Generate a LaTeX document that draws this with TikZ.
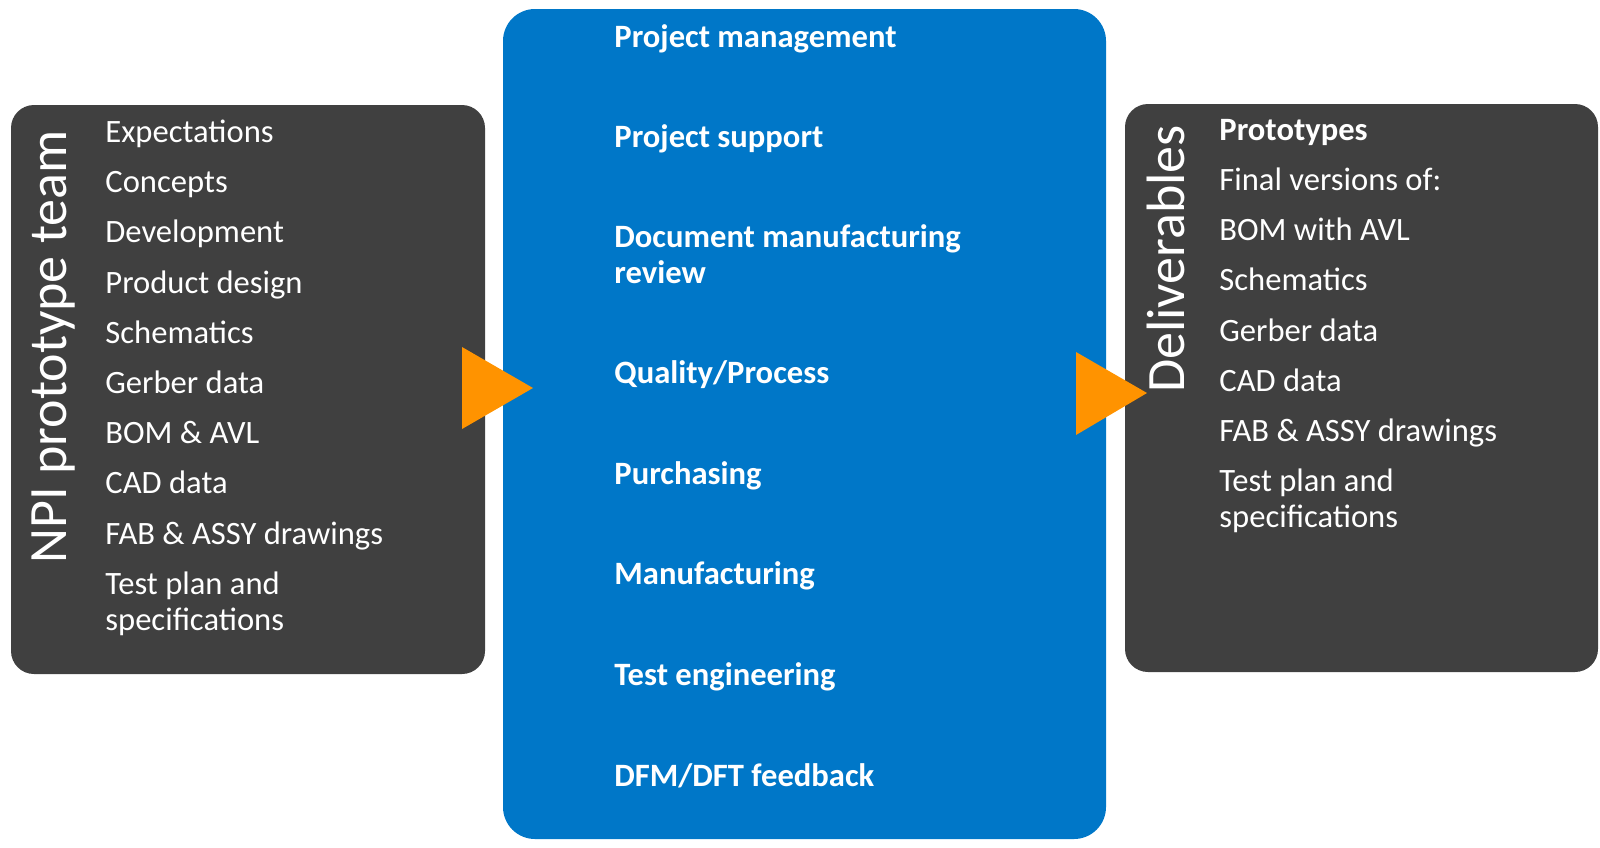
\documentclass[tikz,border=0pt]{standalone}
\usepackage{fontspec}
\setmainfont{Carlito}
\usetikzlibrary{positioning}
\definecolor{boxgray}{HTML}{404040}
\definecolor{boxblue}{HTML}{0077C8}
\definecolor{arrorange}{HTML}{FF9300}
\begin{document}
\begin{tikzpicture}
	[x=0.5pt,y=-0.5pt,every node/.style={text=white,inner sep=0pt},
	 item/.style={anchor=base west,align=left,font=\fontsize{16.3}{18}\selectfont},
	 bitem/.style={item,font=\fontsize{16.3}{18}\selectfont\bfseries},
	 vtitle/.style={rotate=90,anchor=base,font=\fontsize{27}{30}\selectfont}]
	\useasboundingbox (0,0) rectangle (1600,847);
	\fill[boxgray,rounded corners=11.5pt] (11,105) rectangle (485,674);
	\fill[boxblue,rounded corners=16pt] (503,9) rectangle (1106,839);
	\fill[boxgray,rounded corners=11.5pt] (1125,104) rectangle (1598,672);
	
	\node[vtitle] (team) at (66,347) {NPI prototype team};
	\node[vtitle] (deliv) at (1184,259) {Deliverables};
	
	% two-line items: y is the baseline of the last line
	\foreach \y/\t [count=\i] in
		{142/Expectations, 192/Concepts, 242/Development, 293/Product design,
		 343/Schematics, 393/Gerber data, 443/BOM \& AVL, 493/CAD data,
		 544/FAB \& ASSY drawings, 630/Test plan and\\specifications}
	\node[item] (l\i) at (105,\y) {\t};
	
	\foreach \y/\t [count=\i] in
		{47/Project management, 147/Project support,
		 283/Document manufacturing\\review, 383/{Quality/Process},
		 484/Purchasing, 584/Manufacturing, 685/Test engineering,
		 786/{DFM/DFT feedback}}
	\node[bitem] (c\i) at (614,\y) {\t};
	
	\node[bitem] (r1) at (1219,140) {Prototypes};
	\foreach \y/\t [count=\i from 2] in
		{190/Final versions of:, 240/BOM with AVL, 290/Schematics,
		 341/Gerber data, 391/CAD data, 441/FAB \& ASSY drawings,
		 527/Test plan and\\specifications}
	\node[item] (r\i) at (1219,\y) {\t};
	
	\fill[arrorange] (462,347) -- (533,388) -- (462,429) -- cycle;
	\fill[arrorange] (1076,352) -- (1147,393) -- (1076,435) -- cycle;
\end{tikzpicture}
\end{document}
